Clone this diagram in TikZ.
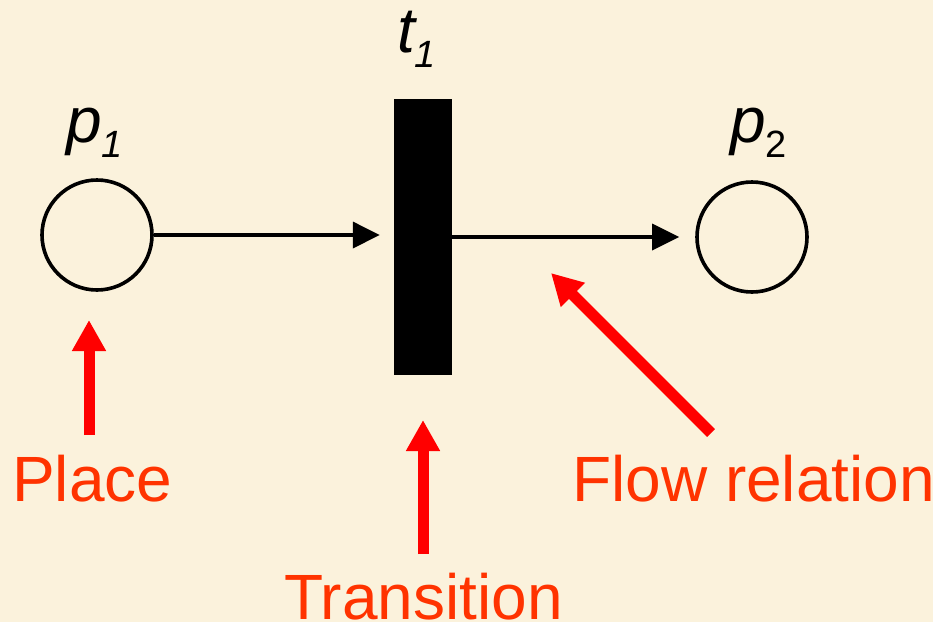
\documentclass[tikz,border=0pt]{standalone}
\usepackage{fontspec}
\setmainfont{Liberation Sans}
\usetikzlibrary{arrows.meta}
\definecolor{bg}{RGB}{251,242,220}
\definecolor{lblred}{RGB}{255,51,0}
\definecolor{arrred}{RGB}{255,0,0}
\tikzset{
  place/.style={circle,draw=black,line width=3.6pt,minimum size=110pt,inner sep=0pt},
  trans/.style={rectangle,fill=black,minimum width=58pt,minimum height=276pt,inner sep=0pt},
  flowarr/.style={line width=3.6pt,-{Triangle[length=27pt,width=26pt]}},
  pointer/.style={line width=11pt,arrred,-{Triangle[length=31pt,width=32pt]}},
  capt/.style={text=lblred,font=\fontsize{64}{70}\selectfont,inner sep=0pt,anchor=base west},
  netlabel/.style={font=\fontsize{64}{70}\selectfont\itshape,inner sep=0pt,anchor=base west}
}
\newcommand{\subidx}[1]{\raisebox{-15pt}{\fontsize{38}{40}\selectfont #1}}
\begin{document}
\begin{tikzpicture}[x=1pt,y=-1pt]
\fill[bg] (0,0) rectangle (933,622);
\useasboundingbox (0,0) rectangle (933,622);
\node[place] (p1) at (97,235) {};
\node[place] (p2) at (752,237) {};
\node[trans] (t1) at (423,237) {};
\node[netlabel] (lp1) at (66,142) {p\subidx{\itshape 1}};
\node[netlabel] (lt1) at (397,52) {t\subidx{\itshape 1}};
\node[netlabel] (lp2) at (730,142) {p\subidx{\upshape 2}};
\draw[flowarr,shorten >=14pt] (p1.east) -- (t1.west |- p1.east);
\draw[flowarr,shorten >=16pt] (t1.east |- p2.west) -- (p2.west);
\node[capt] (cplace) at (12,501) {Place};
\node[capt] (ctrans) at (284,619) {Transition};
\node[capt] (cflow) at (572,501) {Flow relation};
\coordinate (a1s) at (89,435);
\coordinate (a1e) at (89,320);
\coordinate (a2s) at (423,554);
\coordinate (a2e) at (423,420);
\coordinate (a3s) at (711,433);
\coordinate (a3e) at (551,273);
\draw[pointer] (a1s) -- (a1e);
\draw[pointer] (a2s) -- (a2e);
\draw[pointer] (a3s) -- (a3e);
\end{tikzpicture}
\end{document}
